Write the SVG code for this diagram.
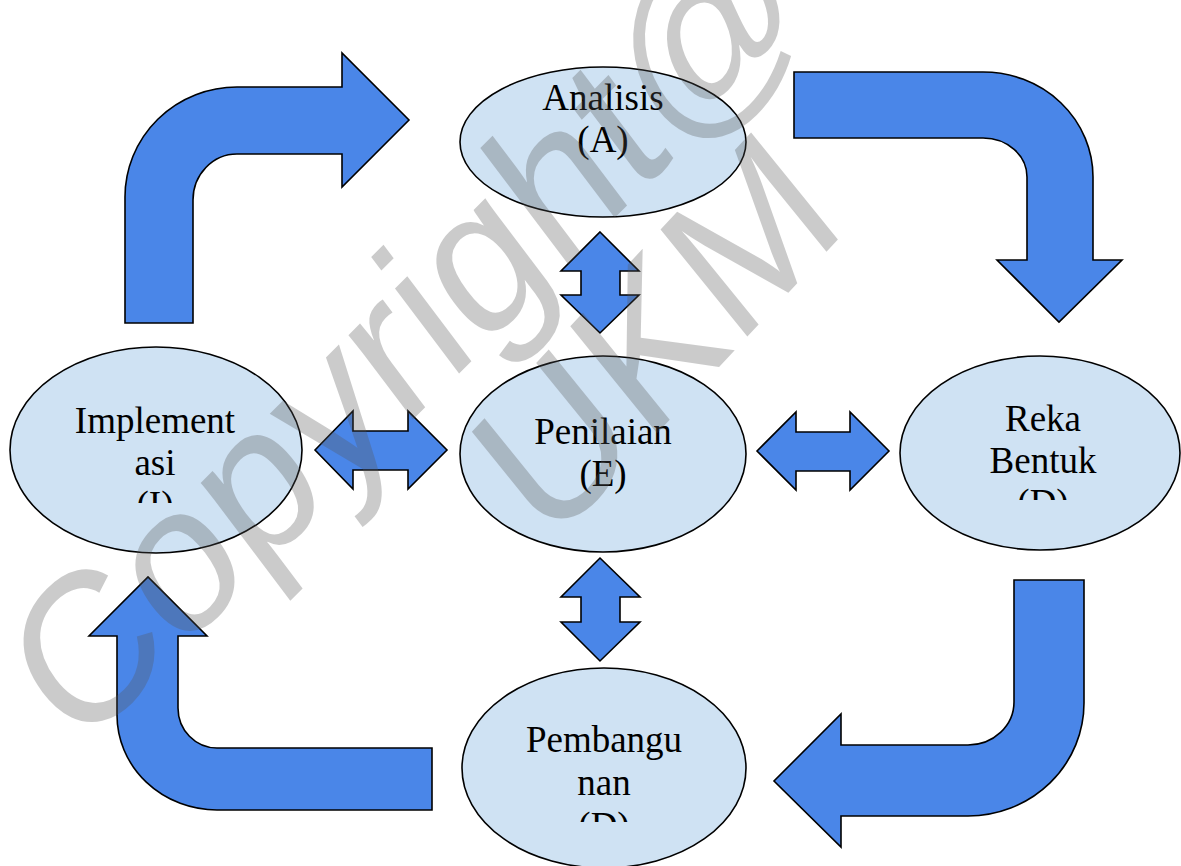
<svg xmlns="http://www.w3.org/2000/svg" width="1181" height="866" viewBox="0 0 1181 866">
<style>
.node{fill:#cfe2f3;stroke:#000;stroke-width:1.6}
.arr{fill:#4a86e8;stroke:#000;stroke-width:1.6;stroke-linejoin:miter}
.lbl{font-family:"Liberation Serif","Tinos","DejaVu Serif",serif;font-size:37px;fill:#000;text-anchor:middle}
.wm{font-family:"Liberation Sans",Arial,sans-serif;font-size:185px;fill:#555;opacity:0.3;text-anchor:middle}
</style>
<defs>
<clipPath id="cI"><rect x="0" y="380" width="320" height="123"/></clipPath>
<clipPath id="cR"><rect x="890" y="380" width="291" height="120"/></clipPath>
<clipPath id="cP"><rect x="450" y="700" width="310" height="122"/></clipPath>
</defs>
<rect width="1181" height="866" fill="#fff"/>
<g id="connectors">
<path class="arr" d="M125 323 L125 197 A112 110 0 0 1 237 87 L342 87 L342 53 L409 120 L342 187 L342 154 L237 154 A44 46 0 0 0 193 200 L193 323 Z"/>
<path class="arr" d="M794 72 L983 72 A110 105 0 0 1 1093 177 L1093 260 L1122 260 L1059 322 L997 260 L1027 260 L1027 177 A44 39 0 0 0 983 138 L794 138 Z"/>
<path class="arr" d="M1014 580 L1084 580 L1084 703 A116 113 0 0 1 968 816 L841 816 L841 847 L774 781 L841 714 L841 745 L968 745 A46 43 0 0 0 1014 702 Z"/>
<path class="arr" d="M432 748 L432 810 L217 810 A100 95 0 0 1 117 715 L117 636 L89 636 L148 577 L207 636 L178 636 L178 708 A39 40 0 0 0 217 748 Z"/>
<path class="arr" d="M600 232 L639 271 L620 271 L620 295 L639 295 L600 333 L561 295 L581 295 L581 271 L561 271 Z"/>
<path class="arr" d="M600 558 L640 597 L620 597 L620 622 L640 622 L600 661 L561 622 L581 622 L581 597 L561 597 Z"/>
<path class="arr" d="M315 450 L353 411 L353 431 L408 431 L408 411 L447 450 L408 489 L408 470 L353 470 L353 489 Z"/>
<path class="arr" d="M757 451 L796 412 L796 432 L850 432 L850 412 L889 451 L850 490 L850 471 L796 471 L796 490 Z"/>
</g>
<g id="node-analisis">
<ellipse class="node" cx="603" cy="142" rx="143" ry="75"/>
<text class="lbl" x="603" y="110">Analisis</text>
<text class="lbl" x="603" y="152">(A)</text>
</g>
<g id="node-penilaian">
<ellipse class="node" cx="603" cy="454" rx="143" ry="98"/>
<text class="lbl" x="603" y="444">Penilaian</text>
<text class="lbl" x="603" y="486">(E)</text>
</g>
<g id="node-implementasi">
<ellipse class="node" cx="156" cy="450" rx="146" ry="103"/>
<g clip-path="url(#cI)">
<text class="lbl" x="155" y="433">Implement</text>
<text class="lbl" x="155" y="475">asi</text>
<text class="lbl" x="155" y="517">(I)</text>
</g>
</g>
<g id="node-rekabentuk">
<ellipse class="node" cx="1040" cy="453" rx="140" ry="97"/>
<g clip-path="url(#cR)">
<text class="lbl" x="1043" y="431">Reka</text>
<text class="lbl" x="1043" y="473">Bentuk</text>
<text class="lbl" x="1043" y="515">(D)</text>
</g>
</g>
<g id="node-pembangunan">
<ellipse class="node" cx="604" cy="768" rx="142" ry="100"/>
<g clip-path="url(#cP)">
<text class="lbl" x="604" y="752">Pembangu</text>
<text class="lbl" x="604" y="795">nan</text>
<text class="lbl" x="604" y="838">(D)</text>
</g>
</g>
<g id="watermark">
<text class="wm" transform="translate(405 330) scale(1 1.15) rotate(-41)" y="64">Copyright@</text>
<text class="wm" transform="translate(655 335) scale(1 1.15) rotate(-43)" y="64">UKM</text>
</g>
</svg>
